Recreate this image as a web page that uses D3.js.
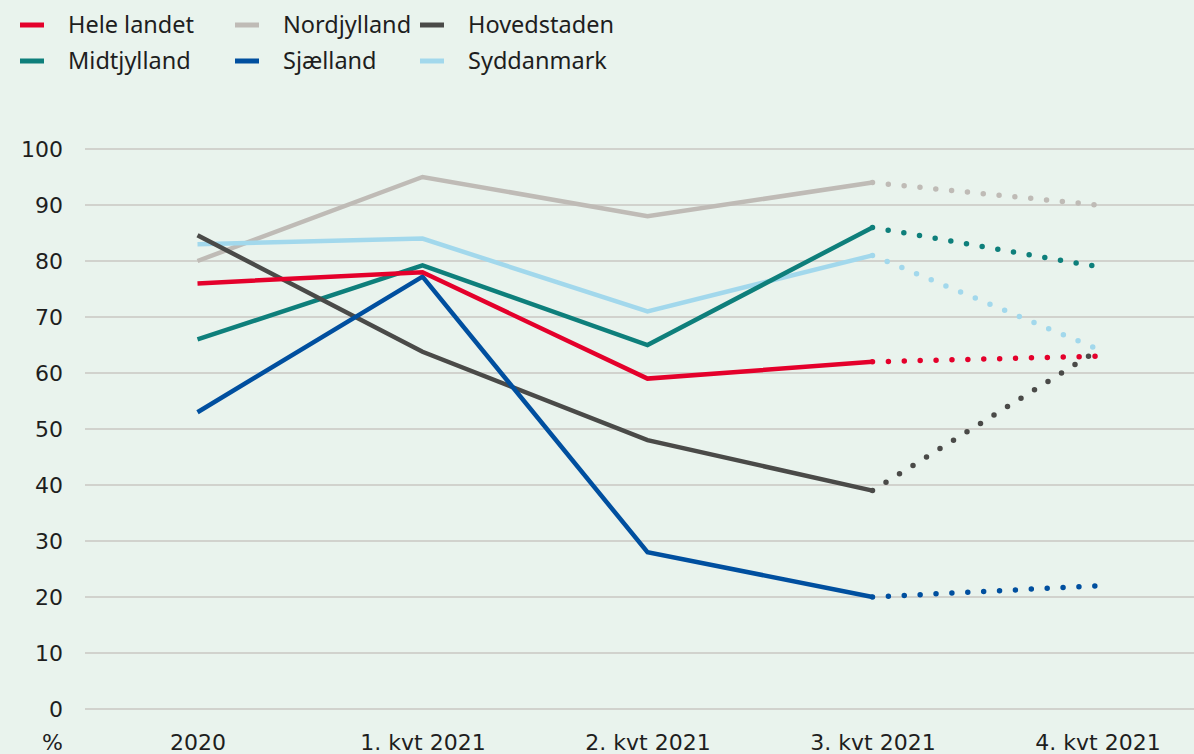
<!DOCTYPE html>
<html lang="da">
<head>
<meta charset="utf-8">
<title>Andel i procent</title>
<script src="https://cdn.jsdelivr.net/npm/d3@7"></script>
<style>
  * { margin: 0; padding: 0; }
  body { background-color: #e9f3ed; }
  svg { display: block; }
  .legend text { font-family: "Noto Sans", sans-serif; font-size: 23.5px; fill: #1e1e1e; }
  .axis text { font-family: "DejaVu Sans", sans-serif; font-size: 22px; fill: #1e1e1e; }
  .grid line { stroke: #c9c7c2; stroke-width: 1.5; }
</style>
</head>
<body>
<div id="chart"></div>
<script>

// Data
var periods = ["2020", "1. kvt 2021", "2. kvt 2021", "3. kvt 2021", "4. kvt 2021"];
var yTicks = [0, 10, 20, 30, 40, 50, 60, 70, 80, 90, 100];

var heleLandet  = [76, 78, 59, 62, 63];
var nordjylland = [80, 95, 88, 94, 90];
var hovedstaden = [84.6, 63.8, 48, 39, 64];
var midtjylland = [66, 79.2, 65, 86, 79];
var sjaelland   = [53, 77.2, 28, 20, 22];
var syddanmark  = [83, 84, 71, 81, 64.3];

// index of last solid point, rest is dotted (forecast)
var solidUntil = 3;

var series = [
  {name: "Hele landet", values: heleLandet,  color: "#e4002b"},
  {name: "Midtjylland", values: midtjylland, color: "#0e7f7b"},
  {name: "Nordjylland", values: nordjylland, color: "#bfbbb6"},
  {name: "Sjælland",    values: sjaelland,   color: "#004f9f"},
  {name: "Hovedstaden", values: hovedstaden, color: "#4a4a48"},
  {name: "Syddanmark",  values: syddanmark,  color: "#a2d8ec"}
];

// drawing order (last on top)
var drawOrder = ["Nordjylland", "Syddanmark", "Midtjylland", "Hovedstaden", "Sjælland", "Hele landet"];

var w = 1194, h = 754;

var svg = d3.select("#chart").append("svg")
    .attr("width", w)
    .attr("height", h);

var x = d3.scalePoint()
    .domain(periods)
    .range([85, 1210])
    .padding(0.5);

var y = d3.scaleLinear()
    .domain([0, 100])
    .range([709, 149]);

// gridlines
svg.append("g").attr("class", "grid")
  .selectAll("line")
  .data(yTicks)
  .enter().append("line")
    .attr("x1", 85).attr("x2", w)
    .attr("y1", function(d) { return y(d); })
    .attr("y2", function(d) { return y(d); });

// y axis labels
var yAxis = d3.axisLeft(y).tickValues(yTicks).tickSize(0).tickPadding(0);
svg.append("g").attr("class", "axis")
    .attr("transform", "translate(63,0)")
    .call(yAxis)
    .call(function(g) {
      g.select(".domain").remove();
      g.selectAll("text").attr("dy", "0.36em");
    });

// x axis labels
var xAxis = d3.axisBottom(x).tickSize(0).tickPadding(0);
svg.append("g").attr("class", "axis")
    .attr("transform", "translate(0,750)")
    .call(xAxis)
    .call(function(g) {
      g.select(".domain").remove();
      g.selectAll("text").attr("dy", 0);
    });

svg.append("g").attr("class", "axis")
  .append("text")
    .attr("x", 63).attr("y", 750)
    .attr("text-anchor", "end")
    .text("%");

// lines
var line = d3.line()
    .x(function(d) { return x(d.p); })
    .y(function(d) { return y(d.v); });

function pts(s) {
  return s.values.map(function(v, i) { return {p: periods[i], v: v}; });
}

var lines = svg.append("g").attr("class", "lines");

drawOrder.forEach(function(name) {
  var s = series.find(function(d) { return d.name === name; });
  var p = pts(s);
  lines.append("path")
      .attr("d", line(p.slice(0, solidUntil + 1)))
      .attr("fill", "none")
      .attr("stroke", s.color)
      .attr("stroke-width", 4.5)
      .attr("stroke-linejoin", "miter");
  lines.append("path")
      .attr("d", line(p.slice(solidUntil)))
      .attr("fill", "none")
      .attr("stroke", s.color)
      .attr("stroke-width", 5.5)
      .attr("stroke-linecap", "round")
      .attr("stroke-dasharray", "0 15.9");
});

// legend
var legend = svg.append("g").attr("class", "legend");
var legX = [20, 235, 420];
var legY = [25, 61];

series.forEach(function(s, i) {
  var col = Math.floor(i / 2), row = i % 2;
  var g = legend.append("g")
      .attr("transform", "translate(" + legX[col] + "," + legY[row] + ")");
  g.append("line")
      .attr("x1", 0).attr("x2", 24)
      .attr("stroke", s.color)
      .attr("stroke-width", 5);
  g.append("text")
      .attr("x", 48)
      .attr("dy", "0.35em")
      .text(s.name);
});

</script>
</body>
</html>
